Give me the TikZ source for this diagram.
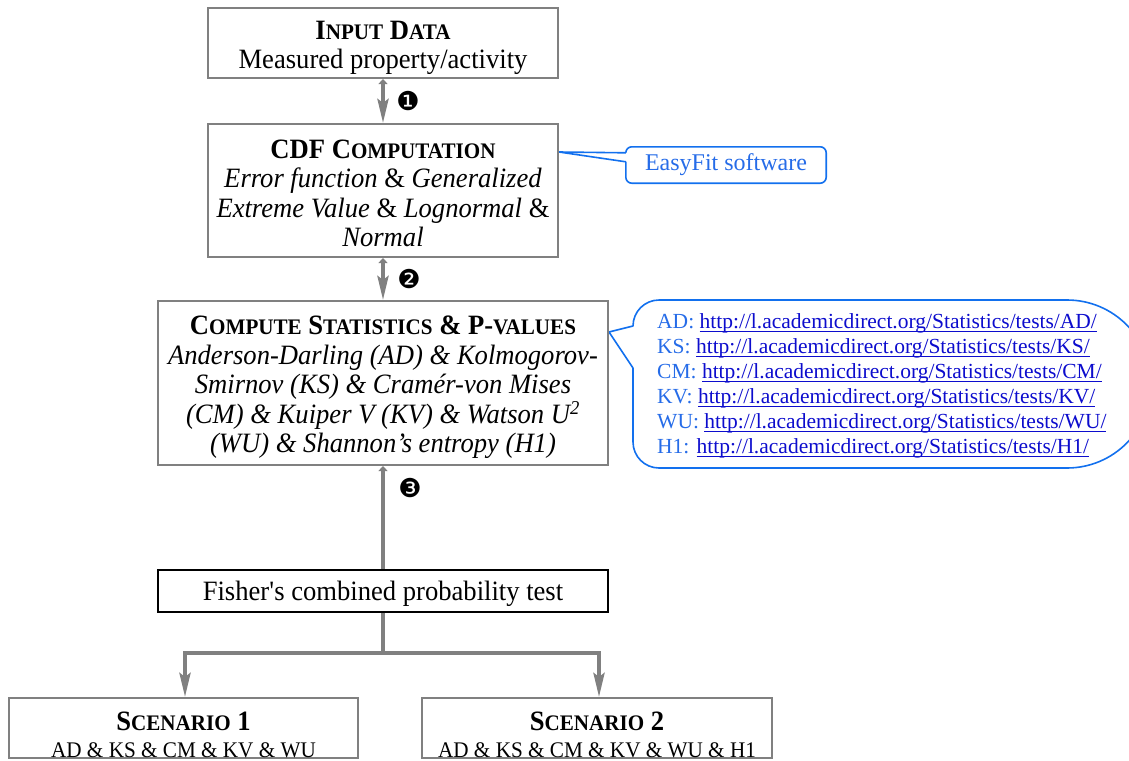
\documentclass[tikz,border=0pt]{standalone}
\usepackage{fontspec}
\setmainfont{Liberation Serif}[FakeStretch=0.95]
\newfontfamily\plainserif{Liberation Serif}
\newfontfamily\dingfont{DejaVu Sans}
\usetikzlibrary{arrows.meta,calc,backgrounds}

\definecolor{boxgray}{RGB}{128,128,128}
\definecolor{linkblue}{RGB}{12,12,205}
\definecolor{labelblue}{RGB}{38,108,232}
\definecolor{calloutblue}{RGB}{18,112,238}

% body text and fake small capitals for the titles
\newcommand\bodysize{\fontsize{28}{29.5}\selectfont}
\newcommand\smc[1]{{\fontsize{22.2}{29.5}\selectfont #1}}
\newcommand\lbl[1]{{\color{labelblue}#1}}
% underlined link text
\newsavebox\lnkbox
\newcommand\lnk[1]{\sbox\lnkbox{\color{linkblue}#1}%
  {\color{linkblue}\rlap{\rule[-3.4pt]{\wd\lnkbox}{1.1pt}}}\usebox\lnkbox}

\begin{document}
\begin{tikzpicture}[x=1pt,y=-1pt,
  box/.style={draw=boxgray, line width=2pt, align=center, inner sep=0pt, font=\bodysize},
  conn/.style={draw=boxgray, line width=4pt},
  downtip/.style={-{Stealth[length=24pt,width=11pt,inset=4pt]}},
  uptip/.style={{Triangle[length=5pt,width=9pt]}-},
  bothtips/.style={{Triangle[length=5pt,width=9pt]}-{Stealth[length=24pt,width=11pt,inset=4pt]}},
  num/.style={font={\fontsize{26}{26}\dingfont}, inner sep=0pt},
  callout/.style={draw=calloutblue, line width=1.6pt}]
\useasboundingbox (0,0) rectangle (1129,760);

% main flow
\node[box, minimum width=350pt, minimum height=70pt] (input) at (383,43)
  {\rule{0pt}{28pt}{\bfseries I\smc{NPUT} D\smc{ATA}}\\ Measured property/activity};

\node[box, minimum width=350pt, minimum height=133pt] (cdf) at (383,190.5)
  {\rule{0pt}{24.5pt}{\bfseries CDF C\smc{OMPUTATION}}\\
   \textit{Error function} \& \textit{Generalized}\\
   \textit{Extreme Value} \& \textit{Lognormal} \&\\
   \textit{Normal}};

\node[box, minimum width=450pt, minimum height=164pt] (stats) at (383,383)
  {\rule{0pt}{28pt}{\bfseries C\smc{OMPUTE} S\smc{TATISTICS} \& P-\smc{VALUES}}\\
   \textit{Anderson-Darling (AD) \& Kolmogorov-}\\
   \textit{Smirnov (KS) \& Cramér-von Mises}\\
   \textit{(CM) \& Kuiper V (KV) \& Watson U\textsuperscript{2}}\\
   \textit{(WU) \& Shannon's entropy (H1)}};

\node[box, draw=black, line width=1.5pt, minimum width=450pt, minimum height=42pt] (fisher) at (383,591)
  {\rule{0pt}{25pt}Fisher\textquotesingle s combined probability test};

\node[box, minimum width=349pt, minimum height=60pt] (s1) at (183.5,728)
  {\rule{0pt}{32pt}{\bfseries S\smc{CENARIO} 1}\\[-3pt]
   {\fontsize{22.3}{26}\selectfont AD \& KS \& CM \& KV \& WU}};

\node[box, minimum width=350pt, minimum height=60pt] (s2) at (597,728)
  {\rule{0pt}{32pt}{\bfseries S\smc{CENARIO} 2}\\[-3pt]
   {\fontsize{22.3}{26}\selectfont AD \& KS \& CM \& KV \& WU \& H1}};

% connectors
\draw[conn, bothtips] (input.south) -- node[num, pos=0.5, xshift=25pt] {❶} (cdf.north);
\draw[conn, bothtips] (cdf.south) -- node[num, pos=0.5, xshift=26pt] {❷} (stats.north);
\draw[conn, uptip] (stats.south) -- node[num, pos=0.21, xshift=27pt] {❸} (fisher.north);

\coordinate (fork) at (383,653);
\draw[conn] (fisher.south) -- (fork);
\draw[conn, downtip] (fork) -| ([xshift=1.5pt]s1.north);
\draw[conn, downtip] (fork) -| ([xshift=2pt]s2.north);

% EasyFit callout
\node[font={\fontsize{24}{24}\plainserif}, text=labelblue, minimum width=200pt, minimum height=36pt, inner sep=0pt]
  (easy) at (726,165) {EasyFit software};
\coordinate (ap1) at ([yshift=-29pt]cdf.north east);
\begin{pgfonlayer}{background}
  \draw[callout, rounded corners=6pt] (easy.north west) rectangle (easy.south east);
  \fill[white] (ap1) -- ($(easy.north west)+(1.6,6)$) -- ($(easy.north west)+(1.6,15)$) -- cycle;
  \draw[callout] ($(easy.north west)+(0,6)$) -- (ap1) -- ($(easy.north west)+(0,15)$);
\end{pgfonlayer}

% links callout
\node[anchor=west, inner sep=0pt, align=left, font={\fontsize{21.5}{25}\plainserif}] (links) at (657,386)
  {\lbl{AD:} \lnk{http://l.academicdirect.org/Statistics/tests/AD/}\\
   \lbl{KS:} \lnk{http://l.academicdirect.org/Statistics/tests/KS/}\\
   \lbl{CM:} \lnk{http://l.academicdirect.org/Statistics/tests/CM/}\\
   \lbl{KV:} \lnk{http://l.academicdirect.org/Statistics/tests/KV/}\\
   \lbl{WU:} \lnk{http://l.academicdirect.org/Statistics/tests/WU/}\\
   \lbl{H1:} \lnk{http://l.academicdirect.org/Statistics/tests/H1/}};
\coordinate (ap2) at ([yshift=-32pt]stats.north east);
\begin{pgfonlayer}{background}
  \draw[callout, line join=round] (ap2) -- (633,326) arc[start angle=180,end angle=270,radius=26]
    -- (1067,300) arc[start angle=-90,end angle=90,radius=84]
    -- (659,468) arc[start angle=90,end angle=180,radius=26]
    -- (633,368) -- cycle;
\end{pgfonlayer}
\end{tikzpicture}
\end{document}
